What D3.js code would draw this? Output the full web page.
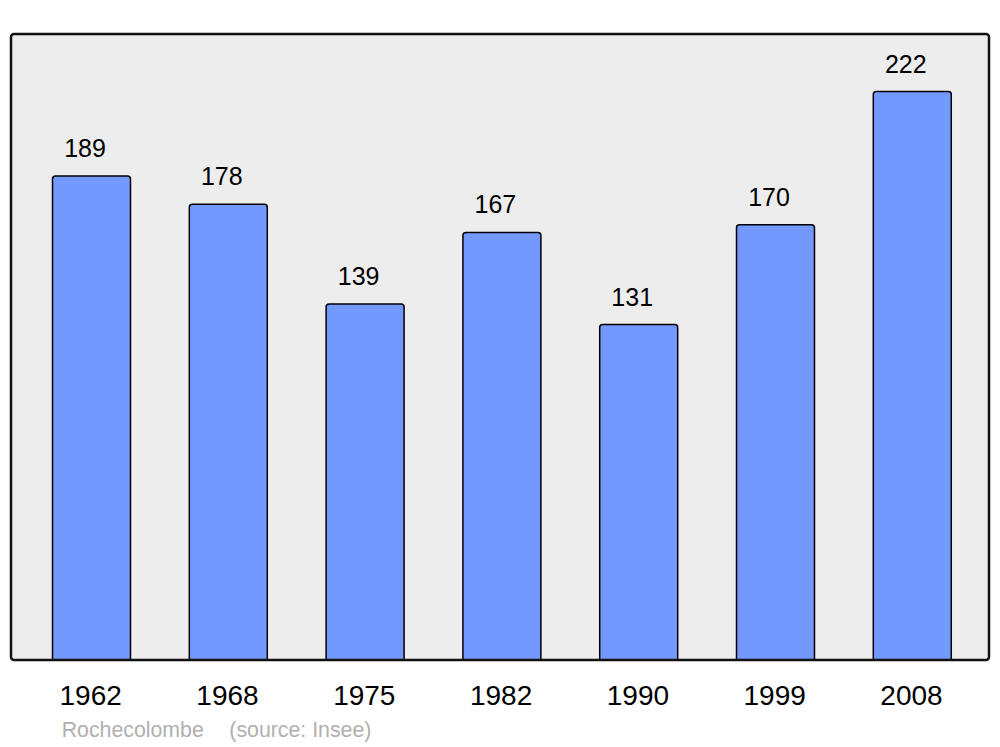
<!DOCTYPE html>
<html><head><meta charset="utf-8">
<script src="https://cdn.jsdelivr.net/npm/d3@7"></script>
<style>html,body{margin:0;padding:0;background:#fff;}svg{display:block;}</style>
</head><body>
<svg id="c" width="1000" height="747"></svg>
<script>
const years = ["1962","1968","1975","1982","1990","1999","2008"];
const population = [189,178,139,167,131,170,222];
const sourceLabels = ["Rochecolombe","(source: Insee)"];

const svg = d3.select("#c");
const plot = {left:11, top:34, right:989, bottom:660};

const x = d3.scaleBand().domain(years).range([23.1, 980.7]).paddingInner(0.43).paddingOuter(0.215);
const y = d3.scaleLinear().domain([0, 244.5]).range([plot.bottom, plot.top]);

svg.append("rect").attr("x",plot.left).attr("y",plot.top)
  .attr("width",plot.right-plot.left).attr("height",plot.bottom-plot.top)
  .attr("rx",3).attr("fill","#ededed");

const r = 3;
svg.selectAll("path.bar").data(years).join("path").attr("class","bar")
  .attr("d",(d,i)=>{
    const x0 = x(d), x1 = x(d)+x.bandwidth(), y0 = y(population[i]), yb = y(0);
    return `M${x0},${yb}V${y0+r}Q${x0},${y0} ${x0+r},${y0}H${x1-r}Q${x1},${y0} ${x1},${y0+r}V${yb}`;
  })
  .attr("fill","#7399ff").attr("stroke","#000").attr("stroke-width",1.5);

svg.selectAll("text.val").data(years).join("text").attr("class","val")
  .attr("x",d=>x(d)+x.bandwidth()/2-6.5)
  .attr("y",(d,i)=>y(population[i])-19)
  .attr("text-anchor","middle")
  .attr("font-family","Liberation Sans, Arial, sans-serif").attr("font-size",25)
  .attr("fill","#000").text((d,i)=>population[i]);

svg.append("rect").attr("x",plot.left).attr("y",plot.top)
  .attr("width",plot.right-plot.left).attr("height",plot.bottom-plot.top)
  .attr("rx",3).attr("fill","none").attr("stroke","#111").attr("stroke-width",2.5);

svg.selectAll("text.yr").data(years).join("text").attr("class","yr")
  .attr("x",d=>x(d)+x.bandwidth()/2-0.8).attr("y",705)
  .attr("text-anchor","middle")
  .attr("font-family","Liberation Sans, Arial, sans-serif").attr("font-size",28)
  .attr("fill","#000").text(d=>d);

const srcX = [61.7, 229.3];
svg.selectAll("text.src").data(sourceLabels).join("text").attr("class","src")
  .attr("x",(d,i)=>srcX[i]).attr("y",737.3)
  .attr("font-family","Liberation Sans, Arial, sans-serif").attr("font-size",21.3)
  .attr("fill","#b0b0b0").text(d=>d);
</script>
</body></html>
